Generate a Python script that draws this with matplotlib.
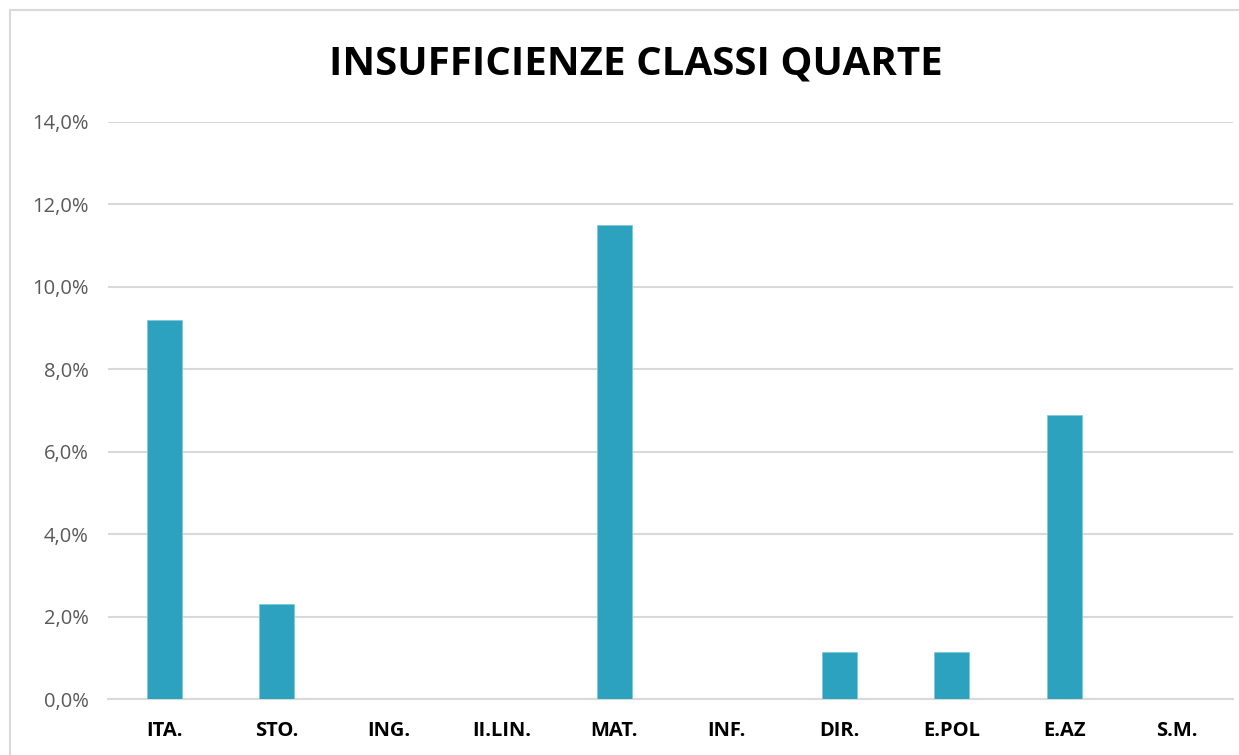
import numpy as np
import matplotlib.pyplot as plt
from matplotlib.patches import Rectangle
from matplotlib.ticker import FuncFormatter

# data
materie = ["ITA.", "STO.", "ING.", "II.LIN.", "MAT.", "INF.", "DIR.", "E.POL", "E.AZ", "S.M."]
insufficienze = [9.2, 2.3, 0.0, 0.0, 11.5, 0.0, 1.15, 1.15, 6.9, 0.0]
y_ticks = [0, 2, 4, 6, 8, 10, 12, 14]

W, H = 1239, 755
fig = plt.figure(figsize=(W / 100, H / 100), dpi=100)
fig.patch.set_facecolor("white")

# chart frame (light grey border as in the spreadsheet chart)
fig.patches.append(Rectangle((10 / W, -0.01), 1.05, 1 - 10 / H + 0.01, transform=fig.transFigure,
                             fill=False, edgecolor="#d9d9d9", linewidth=1.5))

ax = fig.add_axes([108 / W, 1 - 699 / H, (1233 - 108) / W, (699 - 122) / H])

x = np.arange(len(materie))
ax.bar(x, insufficienze, width=0.31, color="#2CA2BF", edgecolor="#7fc8da", linewidth=0.6, zorder=3)

ax.set_xlim(-0.5, len(materie) - 0.5)
ax.set_ylim(0, 14)
ax.set_yticks(y_ticks)
ax.yaxis.set_major_formatter(FuncFormatter(lambda v, p: f"{v:.1f}%".replace(".", ",")))
ax.set_xticks(x)
ax.set_xticklabels(materie, fontsize=14.5, fontweight="bold", color="black", family="Open Sans")
for lab in ax.get_yticklabels():
    lab.set_family("Open Sans")
    lab.set_fontsize(14.5)
    lab.set_color("#595959")

ax.grid(axis="y", color="#d9d9d9", linewidth=1.5, zorder=0)
ax.tick_params(axis="both", length=0)
ax.tick_params(axis="x", pad=16)
ax.tick_params(axis="y", pad=14)
for side in ["top", "right", "left"]:
    ax.spines[side].set_visible(False)
ax.spines["bottom"].set_color("#d9d9d9")
ax.spines["bottom"].set_linewidth(1.5)

fig.text(636 / W, 1 - 64 / H, "INSUFFICIENZE CLASSI QUARTE", ha="center", va="center",
         fontsize=29, fontweight="bold", family="Open Sans", color="black")

fig.savefig("out.png", dpi=100)
